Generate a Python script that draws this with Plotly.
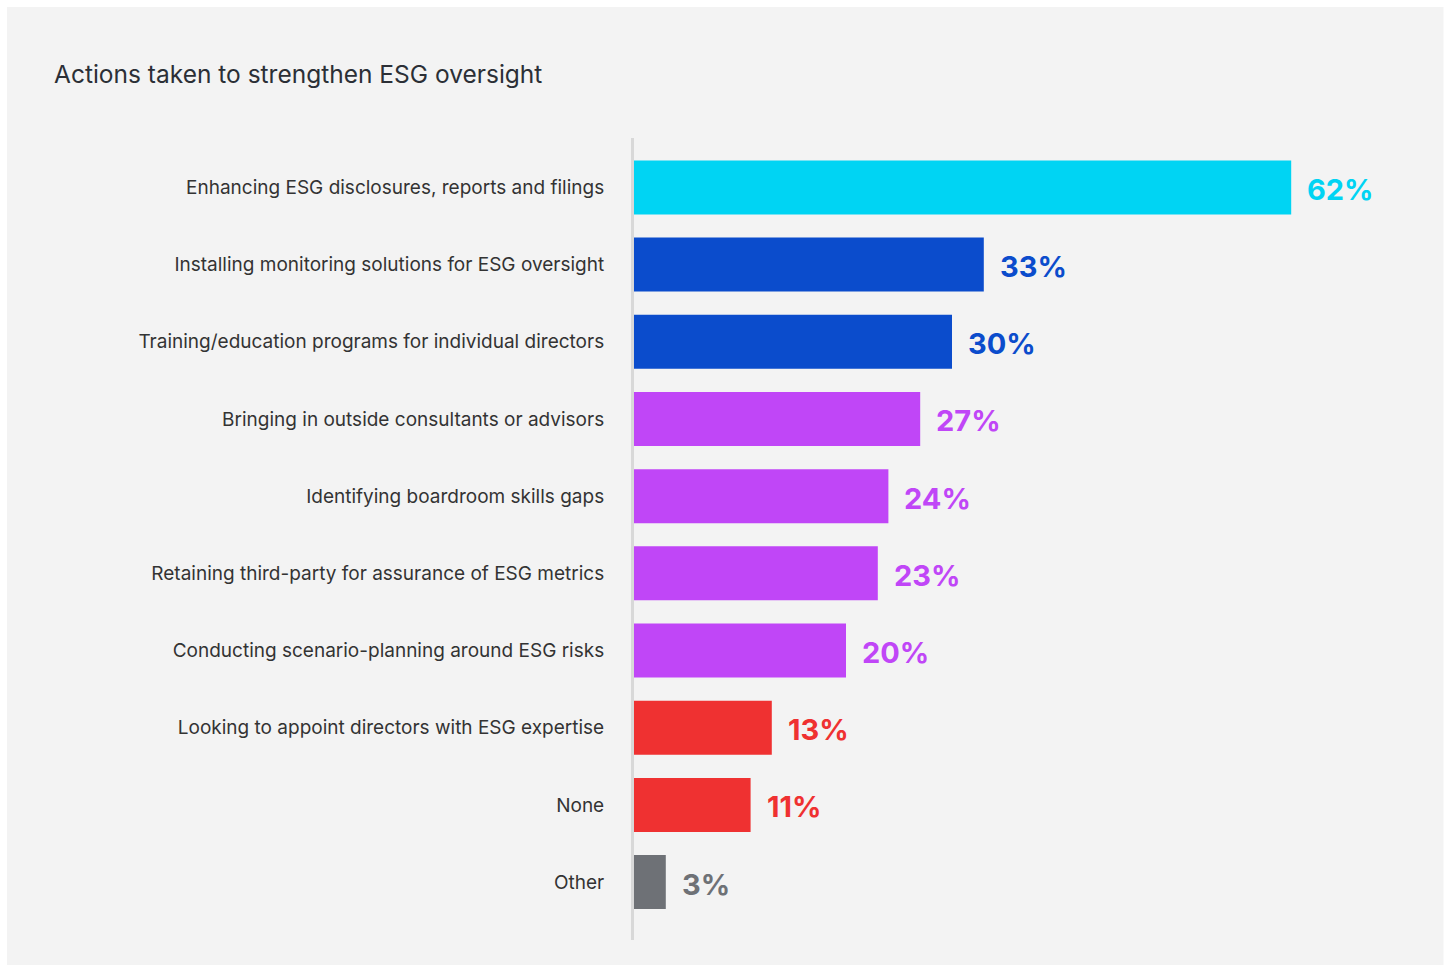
import plotly.graph_objects as go

# Survey results: share of boards taking each action
actions = [
    "Enhancing ESG disclosures, reports and filings",
    "Installing monitoring solutions for ESG oversight",
    "Training/education programs for individual directors",
    "Bringing in outside consultants or advisors",
    "Identifying boardroom skills gaps",
    "Retaining third-party for assurance of ESG metrics",
    "Conducting scenario-planning around ESG risks",
    "Looking to appoint directors with ESG expertise",
    "None",
    "Other",
]
shares = [62, 33, 30, 27, 24, 23, 20, 13, 11, 3]
bar_colors = [
    "#00d4f3", "#0b4ccc", "#0b4ccc",
    "#c046f7", "#c046f7", "#c046f7", "#c046f7",
    "#ef3131", "#ef3131", "#6e7176",
]
value_labels = [f"{v}%" for v in shares]

LABEL_FONT = "Inter"

fig = go.Figure(
    go.Bar(
        x=shares,
        y=actions,
        orientation="h",
        marker=dict(color=bar_colors, line=dict(width=0)),
        width=0.7,
        hoverinfo="skip",
    )
)

# Value labels next to each bar end
for name, v, label, c in zip(actions, shares, value_labels, bar_colors):
    fig.add_annotation(
        x=v, y=name, text=f"<b>{label}</b>", showarrow=False,
        xanchor="left", xshift=14, yshift=-2,
        font=dict(family=LABEL_FONT, size=29, color=c),
    )

# Light panel behind the chart
fig.add_shape(
    type="rect", xref="paper", yref="paper",
    x0=-0.845, x1=1.091, y0=-0.0312, y1=1.1633,
    fillcolor="#f3f3f3", line=dict(width=0), layer="below",
)

fig.update_layout(
    width=1449, height=966,
    margin=dict(l=634, r=73, t=138, b=26),
    paper_bgcolor="white",
    plot_bgcolor="rgba(0,0,0,0)",
    showlegend=False,
    bargap=0.3,
    title=dict(
        text="Actions taken to strengthen ESG oversight",
        x=54 / 1449, xanchor="left", xref="container",
        y=1 - 74 / 966, yanchor="middle", yref="container",
        font=dict(family=LABEL_FONT, size=24.5, color="#2b2f36"),
    ),
    xaxis=dict(
        range=[0, 70], visible=False, fixedrange=True,
    ),
    yaxis=dict(
        categoryorder="array", categoryarray=actions,
        range=[9.75, -0.64],
        showline=True, linecolor="#d8d8d8", linewidth=3,
        showgrid=False, zeroline=False, ticks="",
        ticklabelstandoff=23,
        tickfont=dict(family=LABEL_FONT, size=19, color="#333333"),
        fixedrange=True,
    ),
)

fig.write_html("out.html")
